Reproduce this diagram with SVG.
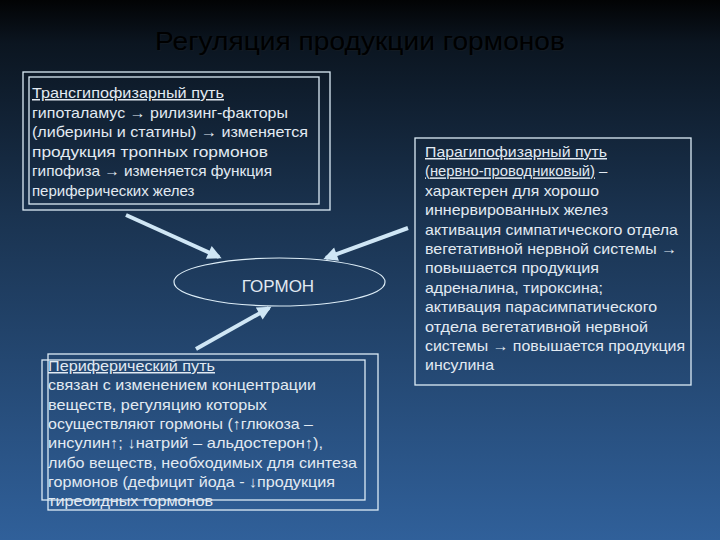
<svg xmlns="http://www.w3.org/2000/svg" width="720" height="540" viewBox="0 0 720 540">
<defs>
<linearGradient id="bg" x1="0" y1="0" x2="0" y2="1">
<stop offset="0" stop-color="#020304"/>
<stop offset="0.08" stop-color="#0b1520"/>
<stop offset="0.4" stop-color="#1a3350"/>
<stop offset="1" stop-color="#30609a"/>
</linearGradient>
<marker id="ah" viewBox="0 0 10 10" refX="8" refY="5" markerWidth="4" markerHeight="3.5" orient="auto" markerUnits="strokeWidth">
<path d="M0,0 L10,5 L0,10 z" fill="#cfe6f5"/>
</marker>
<style>
.t{font-family:"Liberation Sans",Arial,sans-serif;font-size:15px;fill:#e2eaf2}
.u{text-decoration:underline}
.box{fill:none;stroke:#dcecf6;stroke-width:1.3}
.arr{stroke:#cfe6f5;stroke-width:4;fill:none;marker-end:url(#ah)}
</style>
</defs>
<rect width="720" height="540" fill="url(#bg)"/>
<text x="156" y="51" textLength="410" lengthAdjust="spacingAndGlyphs" font-family="Liberation Sans,Arial,sans-serif" font-size="26" fill="#121a22">Регуляция продукции гормонов</text>
<text x="155" y="50" textLength="410" lengthAdjust="spacingAndGlyphs" font-family="Liberation Sans,Arial,sans-serif" font-size="26" fill="#000">Регуляция продукции гормонов</text>

<g id="transhypo">
<rect class="box" x="23" y="72" width="307" height="138"/>
<rect class="box" x="29" y="77" width="290" height="127"/>
<text class="t u" x="32" y="98" textLength="192" lengthAdjust="spacingAndGlyphs">Трансгипофизарный путь</text>
<text class="t" x="32" y="117.5" textLength="256" lengthAdjust="spacingAndGlyphs">гипоталамус → рилизинг-факторы</text>
<text class="t" x="32" y="137" textLength="276" lengthAdjust="spacingAndGlyphs">(либерины и статины) → изменяется</text>
<text class="t" x="32" y="156.5" textLength="236" lengthAdjust="spacingAndGlyphs">продукция тропных гормонов</text>
<text class="t" x="32" y="176" textLength="240" lengthAdjust="spacingAndGlyphs">гипофиза → изменяется функция</text>
<text class="t" x="32" y="195.5">периферических желез</text>
</g>

<g id="hormone">
<ellipse cx="279.5" cy="282" rx="105.5" ry="24" fill="none" stroke="#dcecf6" stroke-width="1.2"/>
<text x="278" y="292" text-anchor="middle" font-family="Liberation Sans,Arial,sans-serif" font-size="17" fill="#e2eaf2">ГОРМОН</text>
</g>

<g id="parahypo">
<rect class="box" x="415" y="138" width="276" height="247"/>
<text class="t u" x="425" y="157" textLength="182" lengthAdjust="spacingAndGlyphs">Парагипофизарный путь</text>
<text class="t u" x="425" y="176.4" textLength="170" lengthAdjust="spacingAndGlyphs">(нервно-проводниковый)</text>
<text class="t" x="599" y="176.4">–</text>
<text class="t" x="425" y="195.8" textLength="174" lengthAdjust="spacingAndGlyphs">характерен для хорошо</text>
<text class="t" x="425" y="215.2" textLength="183" lengthAdjust="spacingAndGlyphs">иннервированных желез</text>
<text class="t" x="425" y="234.6" textLength="253" lengthAdjust="spacingAndGlyphs">активация симпатического отдела</text>
<text class="t" x="425" y="254" textLength="252" lengthAdjust="spacingAndGlyphs">вегетативной нервной системы →</text>
<text class="t" x="425" y="273.4" textLength="174" lengthAdjust="spacingAndGlyphs">повышается продукция</text>
<text class="t" x="425" y="292.8" textLength="178" lengthAdjust="spacingAndGlyphs">адреналина, тироксина;</text>
<text class="t" x="425" y="312.2" textLength="232" lengthAdjust="spacingAndGlyphs">активация парасимпатического</text>
<text class="t" x="425" y="331.6" textLength="223" lengthAdjust="spacingAndGlyphs">отдела вегетативной нервной</text>
<text class="t" x="425" y="351" textLength="260" lengthAdjust="spacingAndGlyphs">системы → повышается продукция</text>
<text class="t" x="425" y="370.4" textLength="69" lengthAdjust="spacingAndGlyphs">инсулина</text>
</g>

<g id="peripheral">
<rect class="box" x="48" y="354" width="330" height="156"/>
<rect class="box" x="42" y="360" width="323" height="140"/>
<text class="t u" x="48" y="371" textLength="167" lengthAdjust="spacingAndGlyphs">Периферический путь</text>
<text class="t" x="48" y="390.3" textLength="268" lengthAdjust="spacingAndGlyphs">связан с изменением концентрации</text>
<text class="t" x="48" y="409.6" textLength="219" lengthAdjust="spacingAndGlyphs">веществ, регуляцию которых</text>
<text class="t" x="48" y="428.9" textLength="265" lengthAdjust="spacingAndGlyphs">осуществляют гормоны (↑глюкоза –</text>
<text class="t" x="48" y="448.2" textLength="275" lengthAdjust="spacingAndGlyphs">инсулин↑; ↓натрий – альдостерон↑),</text>
<text class="t" x="48" y="467.5" textLength="309" lengthAdjust="spacingAndGlyphs">либо веществ, необходимых для синтеза</text>
<text class="t" x="48" y="486.8" textLength="287" lengthAdjust="spacingAndGlyphs">гормонов (дефицит йода - ↓продукция</text>
<text class="t" x="48" y="506.1" textLength="165" lengthAdjust="spacingAndGlyphs">тиреоидных гормонов</text>
</g>

<g id="connectors">
<line class="arr" x1="126" y1="215" x2="219" y2="257"/>
<line class="arr" x1="408" y1="228" x2="326" y2="258"/>
<line class="arr" x1="196" y1="349" x2="269" y2="308"/>
</g>
</svg>
